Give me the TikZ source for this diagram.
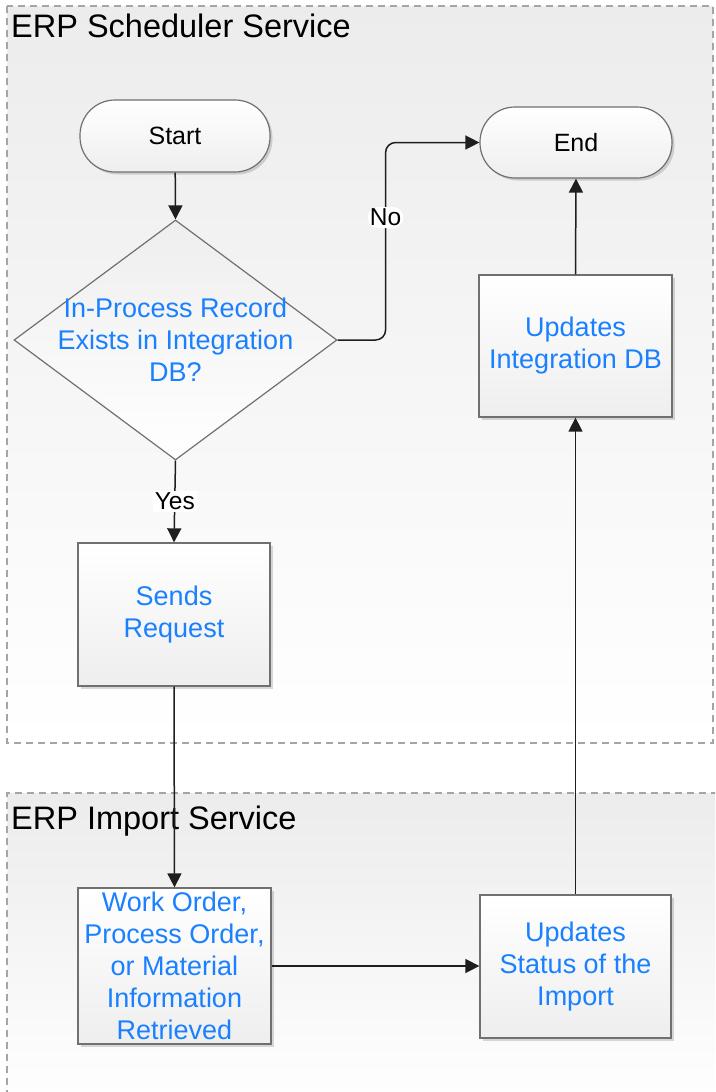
\documentclass[tikz,border=0pt]{standalone}
\usepackage{fontspec}
\setmainfont{Liberation Sans}
\usetikzlibrary{shapes.geometric,arrows.meta,shadows}
\definecolor{bluetxt}{RGB}{25,128,255}
\definecolor{lanegray}{RGB}{236,236,236}
\definecolor{boxgray}{RGB}{238,238,238}
\definecolor{shapegray}{RGB}{112,112,112}
\definecolor{dashgray}{RGB}{165,165,165}
\definecolor{conncol}{RGB}{30,30,30}
\begin{document}
\begin{tikzpicture}[x=1pt,y=-1pt,
  lane/.style={draw=dashgray, line width=1.2pt, dash pattern=on 7pt off 5pt},
  lanetitle/.style={anchor=base west, inner sep=0pt, font=\fontsize{32.5}{38}\selectfont},
  shadowed/.style={drop shadow={shadow xshift=2.5pt, shadow yshift=-2.5pt, fill=black, opacity=0.15}},
  procbox/.style={shape=rectangle, draw=shapegray, line width=1.3pt, top color=white, bottom color=boxgray,
    shadowed, inner sep=0pt, align=center, text=bluetxt, font=\fontsize{27}{32}\selectfont},
  term/.style={shape=rectangle, rounded corners=35pt, draw=shapegray, line width=1.2pt, top color=white,
    bottom color=boxgray, shadowed, inner sep=0pt, font=\fontsize{25}{30}\selectfont},
  decision/.style={shape=diamond, draw=shapegray, line width=1.2pt, top color=boxgray, bottom color=white,
    inner sep=0pt, minimum width=323pt, minimum height=240pt},
  bluetext/.style={align=center, text=bluetxt, inner sep=0pt, font=\fontsize{27}{32}\selectfont},
  conn/.style={draw=conncol, line width=1.5pt, -{Triangle[length=14pt,width=14pt]}},
  lbl/.style={fill=white, inner sep=2pt, font=\fontsize{24.5}{28}\selectfont}
]
\useasboundingbox (0,0) rectangle (715,1092);
\clip (0,0) rectangle (715,1092);

% swimlanes
\shade[top color=lanegray, bottom color=white] (7,6) rectangle (713,743);
\draw[lane] (7,6) rectangle (713,743);
\shade[top color=lanegray, bottom color=white] (7,793) rectangle (730,1110);
\draw[lane] (730,793) -- (7,793) -- (7,1110);
\node[lanetitle] (t1) at (11,37) {ERP Scheduler Service};
\node[lanetitle] (t2) at (11,829) {ERP Import Service};

% nodes
\node[term, minimum width=190pt, minimum height=72pt] (start) at (175,136) {Start};
\node[term, minimum width=192pt, minimum height=71pt] (end) at (576,142.5) {End};
\node[decision] (dec) at (175.5,340) {};
\node[bluetext] (dectext) at (dec.center) {In-Process Record\\Exists in Integration\\DB?};
\node[procbox, minimum width=192pt, minimum height=143pt] (send) at (174,614.5) {Sends\\Request};
\node[procbox, minimum width=193pt, minimum height=142pt] (upd) at (575.5,346) {Updates\\Integration DB};
\node[procbox, minimum width=193pt, minimum height=156pt] (work) at (174.5,966) {Work Order,\\Process Order,\\or Material\\Information\\Retrieved};
\node[procbox, minimum width=191pt, minimum height=143pt] (stat) at (575.5,966.5) {Updates\\Status of the\\Import};

% connectors
\draw[conn] (start) -- (dec.north);
\draw[conn] (dec.south) -- node[lbl] (yes) {Yes} (send.north);
\draw[conn, rounded corners=10pt] (dec.east) -- ++(48,0) |- node[lbl, pos=0.31] (no) {No} (end.west);
\draw[conn] (send.south) -- (work.north);
\draw[conn] (work.east) -- (work.east -| stat.west);
\draw[conn] (stat.north) -- (upd.south);
\draw[conn] (upd.north) -- (end.south);
\end{tikzpicture}
\end{document}
